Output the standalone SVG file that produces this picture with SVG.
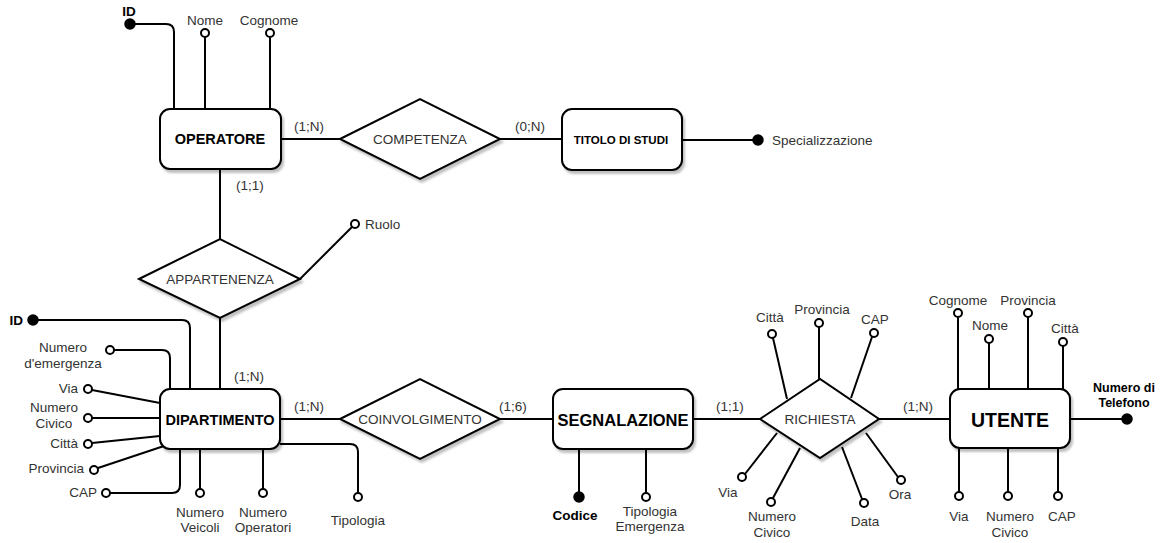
<svg xmlns="http://www.w3.org/2000/svg" width="1169" height="543" viewBox="0 0 1169 543">
<style>
text{font-family:"Liberation Sans",Arial,sans-serif;fill:#333;font-size:13.5px}
.ent{fill:#fff;stroke:#000;stroke-width:2}
.rel{fill:#fff;stroke:#000;stroke-width:2}
.ln{fill:none;stroke:#000;stroke-width:2}
.oc{fill:#fff;stroke:#000;stroke-width:2}
.fc{fill:#000;stroke:#000;stroke-width:1.5}
.et{font-weight:bold;fill:#000}
.b{font-weight:bold;fill:#000}
.m{text-anchor:middle}
.e{text-anchor:end}
</style>
<defs>
<filter id="sh" x="-10%" y="-10%" width="130%" height="140%">
<feDropShadow dx="2" dy="3" stdDeviation="1" flood-color="#000" flood-opacity="0.25"/>
</filter>
</defs>

<g id="connectors">
<!-- OPERATORE attributes -->
<path class="ln" d="M130,24 H166 Q174,24 174,32 V109"/>
<line class="ln" x1="205" y1="37" x2="205" y2="109"/>
<line class="ln" x1="270" y1="37" x2="270" y2="109"/>
<!-- OPERATORE - COMPETENZA - TITOLO -->
<line class="ln" x1="281" y1="139" x2="340" y2="139"/>
<line class="ln" x1="500" y1="139" x2="562" y2="139"/>
<line class="ln" x1="682" y1="140" x2="758" y2="140"/>
<!-- OPERATORE - APPARTENENZA - DIPARTIMENTO -->
<line class="ln" x1="220" y1="169" x2="220" y2="239"/>
<line class="ln" x1="220" y1="318" x2="220" y2="389"/>
<line class="ln" x1="300" y1="279" x2="352" y2="227"/>
<!-- DIPARTIMENTO attributes -->
<path class="ln" d="M33,320 H182 Q190,320 190,328 V389"/>
<path class="ln" d="M114,350 H162 Q170,350 170,358 V389"/>
<line class="ln" x1="92" y1="390" x2="160" y2="403"/>
<line class="ln" x1="92" y1="418" x2="160" y2="418"/>
<line class="ln" x1="92" y1="443" x2="160" y2="436"/>
<line class="ln" x1="98" y1="468" x2="164" y2="446"/>
<path class="ln" d="M110,493 H172 Q180,493 180,485 V449"/>
<line class="ln" x1="200" y1="449" x2="200" y2="489"/>
<line class="ln" x1="263" y1="449" x2="263" y2="489"/>
<path class="ln" d="M280,444 H350 Q358,444 358,452 V493"/>
<!-- DIPARTIMENTO - COINVOLGIMENTO - SEGNALAZIONE -->
<line class="ln" x1="280" y1="419" x2="340" y2="419"/>
<line class="ln" x1="500" y1="419" x2="553" y2="419"/>
<line class="ln" x1="579" y1="449" x2="579" y2="497"/>
<line class="ln" x1="646" y1="449" x2="646" y2="493"/>
<!-- SEGNALAZIONE - RICHIESTA - UTENTE -->
<line class="ln" x1="693" y1="419" x2="760" y2="419"/>
<line class="ln" x1="879" y1="419" x2="950" y2="419"/>
<!-- RICHIESTA attributes -->
<line class="ln" x1="773" y1="338" x2="787" y2="399"/>
<line class="ln" x1="819" y1="327" x2="819" y2="379"/>
<line class="ln" x1="872" y1="337" x2="851" y2="398"/>
<line class="ln" x1="745" y1="474" x2="777" y2="433"/>
<line class="ln" x1="773" y1="498" x2="800" y2="448"/>
<line class="ln" x1="862" y1="499" x2="842" y2="447"/>
<line class="ln" x1="898" y1="477" x2="866" y2="433"/>
<!-- UTENTE attributes -->
<line class="ln" x1="958" y1="317" x2="958" y2="389"/>
<line class="ln" x1="989" y1="343" x2="989" y2="389"/>
<line class="ln" x1="1028" y1="317" x2="1028" y2="389"/>
<line class="ln" x1="1063" y1="346" x2="1063" y2="389"/>
<line class="ln" x1="1070" y1="419" x2="1127" y2="419"/>
<line class="ln" x1="959" y1="448" x2="959" y2="492"/>
<line class="ln" x1="1008" y1="448" x2="1008" y2="492"/>
<line class="ln" x1="1058" y1="448" x2="1058" y2="492"/>
</g>

<g id="operatore">
<rect class="ent" filter="url(#sh)" x="160" y="109" width="121" height="60" rx="10"/>
<text class="et m" x="220" y="144" style="font-size:14.5px">OPERATORE</text>
</g>
<g id="operatore-attrs">
<circle class="fc" cx="130" cy="24" r="5"/>
<text class="b m" x="129" y="16">ID</text>
<circle class="oc" cx="205" cy="33" r="4"/>
<text class="m" x="205" y="25">Nome</text>
<circle class="oc" cx="270" cy="33" r="4"/>
<text class="m" x="269" y="25">Cognome</text>
</g>

<g id="competenza">
<polygon class="rel" filter="url(#sh)" points="340,139 420,99 500,139 420,179"/>
<text class="m" x="420" y="144">COMPETENZA</text>
<text class="m" x="309" y="131">(1;N)</text>
<text class="m" x="530" y="131">(0;N)</text>
</g>

<g id="titolo">
<rect class="ent" filter="url(#sh)" x="562" y="109" width="120" height="61" rx="10"/>
<text class="et m" x="621" y="144" style="font-size:11.5px">TITOLO DI STUDI</text>
<circle class="fc" cx="758" cy="140" r="5"/>
<text x="772" y="145">Specializzazione</text>
</g>

<g id="appartenenza">
<polygon class="rel" filter="url(#sh)" points="139,279 220,239 300,279 220,318"/>
<text class="m" x="220" y="284">APPARTENENZA</text>
<text class="m" x="250" y="190">(1;1)</text>
<circle class="oc" cx="355" cy="224" r="4"/>
<text x="365" y="229">Ruolo</text>
<text class="m" x="249" y="381">(1;N)</text>
</g>

<g id="dipartimento">
<rect class="ent" filter="url(#sh)" x="160" y="389" width="120" height="60" rx="10"/>
<text class="et m" x="220" y="425" style="font-size:14.5px">DIPARTIMENTO</text>
</g>
<g id="dipartimento-attrs">
<circle class="fc" cx="33" cy="320" r="5"/>
<text class="b e" x="23" y="325">ID</text>
<circle class="oc" cx="110" cy="350" r="4"/>
<text class="m" x="63" y="352">Numero</text>
<text class="m" x="63" y="368">d'emergenza</text>
<circle class="oc" cx="88" cy="389" r="4"/>
<text class="e" x="78" y="393">Via</text>
<circle class="oc" cx="88" cy="418" r="4"/>
<text class="m" x="54" y="412">Numero</text>
<text class="m" x="54" y="428">Civico</text>
<circle class="oc" cx="88" cy="444" r="4"/>
<text class="e" x="78" y="448">Città</text>
<circle class="oc" cx="94" cy="470" r="4"/>
<text class="e" x="84" y="473">Provincia</text>
<circle class="oc" cx="106" cy="493" r="4"/>
<text class="e" x="97" y="497">CAP</text>
<circle class="oc" cx="200" cy="493" r="4"/>
<text class="m" x="200" y="517">Numero</text>
<text class="m" x="200" y="532">Veicoli</text>
<circle class="oc" cx="263" cy="493" r="4"/>
<text class="m" x="263" y="517">Numero</text>
<text class="m" x="263" y="532">Operatori</text>
<circle class="oc" cx="358" cy="497" r="4"/>
<text class="m" x="358" y="525">Tipologia</text>
</g>

<g id="coinvolgimento">
<polygon class="rel" filter="url(#sh)" points="340,419 420,379 500,419 420,459"/>
<text class="m" x="420" y="424">COINVOLGIMENTO</text>
<text class="m" x="309" y="411">(1;N)</text>
<text class="m" x="513" y="411">(1;6)</text>
</g>

<g id="segnalazione">
<rect class="ent" filter="url(#sh)" x="553" y="389" width="140" height="60" rx="10"/>
<text class="et m" x="623" y="426" style="font-size:16.5px">SEGNALAZIONE</text>
<circle class="fc" cx="579" cy="497" r="5"/>
<text class="b m" x="575" y="520">Codice</text>
<circle class="oc" cx="646" cy="497" r="4"/>
<text class="m" x="650" y="516">Tipologia</text>
<text class="m" x="650" y="531">Emergenza</text>
</g>

<g id="richiesta">
<polygon class="rel" filter="url(#sh)" points="760,419 820,379 879,419 820,458"/>
<text class="m" x="820" y="424">RICHIESTA</text>
<text class="m" x="730" y="411">(1;1)</text>
<text class="m" x="918" y="411">(1;N)</text>
<circle class="oc" cx="772" cy="334" r="4"/>
<text class="m" x="770" y="322">Città</text>
<circle class="oc" cx="819" cy="323" r="4"/>
<text class="m" x="822" y="314">Provincia</text>
<circle class="oc" cx="874" cy="333" r="4"/>
<text class="m" x="875" y="324">CAP</text>
<circle class="oc" cx="742" cy="477" r="4"/>
<text class="m" x="728" y="497">Via</text>
<circle class="oc" cx="771" cy="502" r="4"/>
<text class="m" x="772" y="521">Numero</text>
<text class="m" x="772" y="537">Civico</text>
<circle class="oc" cx="864" cy="503" r="4"/>
<text class="m" x="865" y="526">Data</text>
<circle class="oc" cx="901" cy="480" r="4"/>
<text class="m" x="900" y="499">Ora</text>
</g>

<g id="utente">
<rect class="ent" filter="url(#sh)" x="950" y="389" width="120" height="59" rx="10"/>
<text class="et m" x="1010" y="427" style="font-size:19.5px">UTENTE</text>
<circle class="oc" cx="958" cy="313" r="4"/>
<text class="m" x="958" y="305">Cognome</text>
<circle class="oc" cx="989" cy="339" r="4"/>
<text class="m" x="990" y="330">Nome</text>
<circle class="oc" cx="1028" cy="313" r="4"/>
<text class="m" x="1028" y="305">Provincia</text>
<circle class="oc" cx="1063" cy="342" r="4"/>
<text class="m" x="1065" y="333">Città</text>
<circle class="fc" cx="1127" cy="419" r="5"/>
<text class="b m" x="1124" y="392" style="font-size:12.5px">Numero di</text>
<text class="b m" x="1124" y="407" style="font-size:12.5px">Telefono</text>
<circle class="oc" cx="959" cy="496" r="4"/>
<text class="m" x="959" y="521">Via</text>
<circle class="oc" cx="1008" cy="496" r="4"/>
<text class="m" x="1010" y="521">Numero</text>
<text class="m" x="1010" y="537">Civico</text>
<circle class="oc" cx="1058" cy="496" r="4"/>
<text class="m" x="1062" y="521">CAP</text>
</g>
</svg>
